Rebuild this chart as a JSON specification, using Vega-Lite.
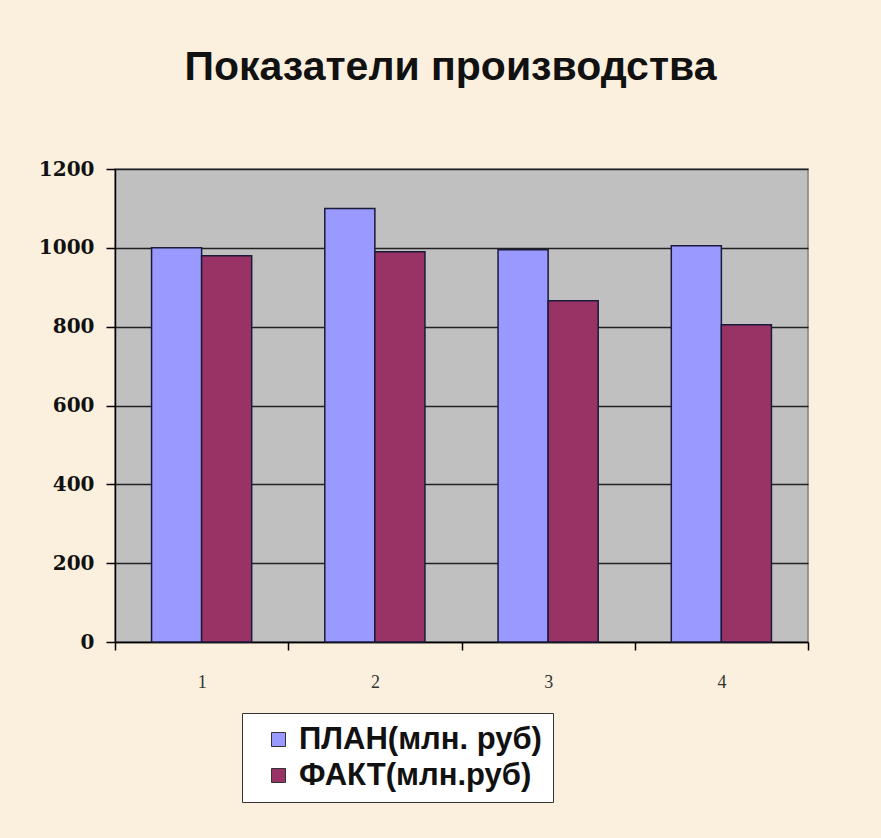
{
  "$schema": "https://vega.github.io/schema/vega-lite/v6.json",
  "width": 693,
  "height": 473,
  "autosize": {"type": "none"},
  "padding": {"left": 115, "top": 169, "right": 73, "bottom": 196},
  "background": "#FBF0DD",
  "title": {
    "text": "Показатели производства",
    "font": "Liberation Sans",
    "fontSize": 41,
    "fontWeight": "bold",
    "color": "#111111",
    "anchor": "middle",
    "offset": 70,
    "dx": -11
  },
  "data": {
    "values": [
      {"group": "1", "series": "ПЛАН(млн. руб)", "value": 1000},
      {"group": "1", "series": "ФАКТ(млн.руб)", "value": 980},
      {"group": "2", "series": "ПЛАН(млн. руб)", "value": 1100},
      {"group": "2", "series": "ФАКТ(млн.руб)", "value": 990},
      {"group": "3", "series": "ПЛАН(млн. руб)", "value": 995},
      {"group": "3", "series": "ФАКТ(млн.руб)", "value": 866},
      {"group": "4", "series": "ПЛАН(млн. руб)", "value": 1005},
      {"group": "4", "series": "ФАКТ(млн.руб)", "value": 805}
    ]
  },
  "mark": {"type": "bar", "stroke": "#1a1a3a", "strokeWidth": 1.5},
  "encoding": {
    "x": {
      "field": "group",
      "type": "nominal",
      "scale": {"paddingInner": 0, "paddingOuter": 0},
      "axis": {
        "title": null,
        "labelAngle": 0,
        "tickBand": "extent",
        "domainColor": "#000000",
        "domainWidth": 1.5,
        "tickColor": "#000000",
        "tickWidth": 1.5,
        "tickSize": 8,
        "labelFont": "Liberation Serif",
        "labelFontSize": 18,
        "labelColor": "#333333",
        "labelPadding": 23,
        "grid": false
      }
    },
    "xOffset": {"field": "series", "type": "nominal", "scale": {"paddingInner": 0, "paddingOuter": 0.73}},
    "y": {
      "field": "value",
      "type": "quantitative",
      "scale": {"domain": [0, 1200], "nice": false},
      "axis": {
        "title": null,
        "values": [0, 200, 400, 600, 800, 1000, 1200],
        "format": "d",
        "grid": true,
        "gridColor": "#222222",
        "gridWidth": 1.6,
        "domainColor": "#000000",
        "domainWidth": 1.5,
        "tickColor": "#000000",
        "tickWidth": 1.5,
        "tickSize": 9,
        "labelFont": "DejaVu Serif",
        "labelFontWeight": "bold",
        "labelFontSize": 20,
        "labelColor": "#111111",
        "labelPadding": 12
      }
    },
    "color": {
      "field": "series",
      "type": "nominal",
      "scale": {"domain": ["ПЛАН(млн. руб)", "ФАКТ(млн.руб)"], "range": ["#9999FF", "#993366"]},
      "legend": {
        "title": null,
        "orient": "none",
        "legendX": 127,
        "legendY": 544,
        "direction": "vertical",
        "padding": 11,
        "fillColor": "#FFFFFF",
        "strokeColor": "#333333",
        "symbolType": "square",
        "symbolSize": 196,
        "symbolStrokeColor": "#333333",
        "symbolStrokeWidth": 1,
        "symbolOffset": 10,
        "labelOffset": 5,
        "labelFont": "Liberation Sans",
        "labelFontWeight": "bold",
        "labelFontSize": 31,
        "labelColor": "#111111",
        "labelLimit": 400,
        "rowPadding": 4
      }
    }
  },
  "config": {
    "view": {"fill": "#C0C0C0", "stroke": "#808080", "strokeWidth": 1.5}
  }
}
